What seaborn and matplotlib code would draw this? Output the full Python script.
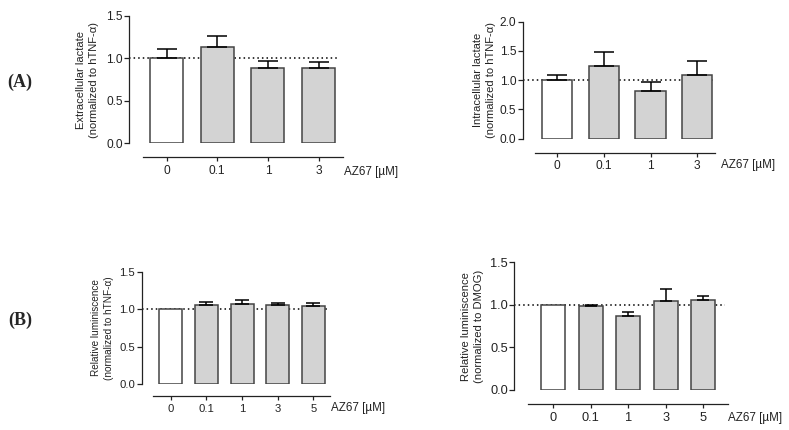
import numpy as np
import pandas as pd
import matplotlib
matplotlib.use("Agg")
import matplotlib.pyplot as plt
import seaborn as sns

# datos
dosis_a = ["0", "0.1", "1", "3"]
dosis_b = ["0", "0.1", "1", "3", "5"]

lactato_ext = [1.0, 1.13, 0.885, 0.89]
lactato_ext_sem = [0.11, 0.135, 0.078, 0.07]

lactato_int = [1.0, 1.25, 0.815, 1.095]
lactato_int_sem = [0.083, 0.233, 0.16, 0.227]

lumin_tnf = [1.0, 1.05, 1.068, 1.05, 1.04]
lumin_tnf_sem = [0.0, 0.04, 0.05, 0.027, 0.037]

lumin_dmog = [1.0, 0.983, 0.873, 1.05, 1.061]
lumin_dmog_sem = [0.0, 0.012, 0.04, 0.133, 0.04]

ticks_15 = [0.0, 0.5, 1.0, 1.5]
ticks_20 = [0.0, 0.5, 1.0, 1.5, 2.0]

sns.set_style("ticks")
plt.rcParams["font.family"] = ["Liberation Sans", "DejaVu Sans"]

GRIS = "#d3d3d3"
BORDE = "#444444"

W, H = 789, 430
fig = plt.figure(figsize=(W / 100, H / 100), dpi=100)


def panel(rect_px, dosis, medias, sem, yticks, xlim, spine_lim, dot_end,
          offset_px, ylabel, ylab_x, fs_lab, fs_tick, lsp, capsize, az_pos):
    left, right, top, bottom = rect_px
    ax = fig.add_axes([left / W, 1 - bottom / H, (right - left) / W, (bottom - top) / H])
    df = pd.DataFrame({"dosis": dosis, "valor": medias})
    colores = ["white"] + [GRIS] * (len(dosis) - 1)
    sns.barplot(data=df, x="dosis", y="valor", hue="dosis", palette=colores,
                legend=False, width=0.65, edgecolor=BORDE, linewidth=1.1,
                errorbar=None, ax=ax, zorder=2)
    x = np.arange(len(dosis))
    sem = np.array(sem)
    m = sem > 0
    ax.errorbar(x[m], np.array(medias)[m], yerr=[np.zeros(m.sum()), sem[m]],
                fmt="none", ecolor="black", elinewidth=1.1, capsize=capsize,
                capthick=1.1, zorder=3)
    ax.hlines(1.0, xlim[0], dot_end, colors="black", linestyles=(0, (1, 2.0)),
              linewidth=1.1, zorder=1, clip_on=False)
    ax.set_xlim(*xlim)
    ax.set_ylim(yticks[0], yticks[-1])
    ax.set_yticks(yticks)
    ax.set_yticklabels([f"{t:.1f}" for t in yticks])
    ax.set_xlabel("")
    ax.set_ylabel("")
    sns.despine(ax=ax)
    ax.spines["bottom"].set_position(("outward", offset_px * 0.72))
    ax.spines["bottom"].set_bounds(*spine_lim)
    for s in ["left", "bottom"]:
        ax.spines[s].set_linewidth(0.9)
        ax.spines[s].set_color("#222222")
    ax.tick_params(axis="y", length=3.6, width=0.9, pad=1, labelsize=fs_tick,
                   colors="#222222")
    ax.tick_params(axis="x", length=3, width=0.9, pad=2.5, labelsize=fs_tick,
                   colors="#222222")
    ax.text(ylab_x, 0.5, ylabel, rotation=90, ha="center", va="center",
            multialignment="center", linespacing=lsp, fontsize=fs_lab,
            color="#222222", transform=ax.transAxes)
    ax.text(az_pos[0], az_pos[1], "AZ67 [µM]", ha="left", va="center",
            fontsize=8.4, color="#222222", transform=ax.transAxes)
    return ax


panel((129, 344, 15.7, 143.3), dosis_a, lactato_ext, lactato_ext_sem, ticks_15,
      (-0.74, 3.5), (-0.46, 3.48), 3.38, 14,
      "Extracellular lactate\n(normalized to hTNF-α)", -0.193, 8, 8.6, 1.47, 7.5,
      (1.0, -0.225))

panel((522.7, 716, 21.7, 138.7), dosis_a, lactato_int, lactato_int_sem, ticks_20,
      (-0.74, 3.4), (-0.48, 3.37), 3.37, 14,
      "Intracellular lactate\n(normalized to hTNF-α)", -0.198, 8, 8.6, 1.47, 7.5,
      (1.024, -0.225))

panel((141.7, 330, 271.7, 384), dosis_b, lumin_tnf, lumin_tnf_sem, ticks_15,
      (-0.82, 4.47), (-0.5, 4.47), 4.42, 12,
      "Relative luminiscence\n(normalized to hTNF-α)", -0.208, 7.2, 8.1, 1.26, 4.8,
      (1.005, -0.214))

panel((514.3, 728.3, 262.3, 390), dosis_b, lumin_dmog, lumin_dmog_sem, ticks_15,
      (-1.04, 4.67), (-0.67, 4.67), 4.58, 14,
      "Relative luminiscence\n(normalized to DMOG)", -0.195, 8.1, 9.2, 1.45, 4.4,
      (1.0, -0.222))

for letra, y in [("A", 82), ("B", 320)]:
    fig.text(20 / W, 1 - y / H, f"({letra})", ha="center", va="center",
             fontsize=13, fontweight="bold", family=["Liberation Serif", "DejaVu Serif"])

fig.savefig("out.png", dpi=100)
